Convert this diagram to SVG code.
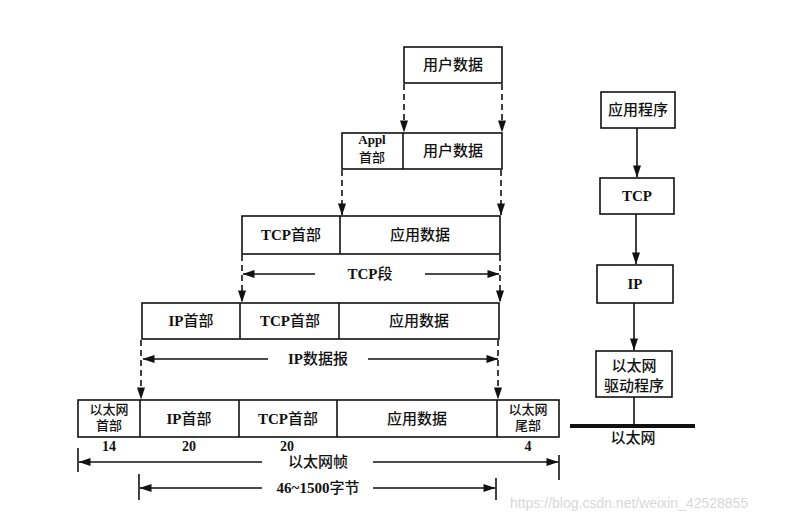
<svg xmlns="http://www.w3.org/2000/svg" width="787" height="522" viewBox="0 0 787 522">
<style>
.box{fill:none;stroke:#111;stroke-width:1.6}
.t{font-family:"Liberation Serif","Noto Sans CJK SC",serif;font-size:15px;fill:#111;text-anchor:middle;font-weight:500}
.b{font-weight:bold}
.s{font-size:13px}
.n{font-size:14px;font-weight:bold}
.dash{stroke:#111;stroke-width:1.6;stroke-dasharray:6 4;fill:none}
.solid{stroke:#111;stroke-width:1.6;fill:none}
.wm{font-family:"Liberation Sans","DejaVu Sans",sans-serif;font-size:14px;fill:#d8d8d8}
</style>
<defs>
<marker id="ah" markerWidth="13" markerHeight="8" refX="11.5" refY="4" orient="auto" markerUnits="userSpaceOnUse" viewBox="0 0 12 8">
<path d="M0,0 L12,4 L0,8 z" fill="#111"/>
</marker>
</defs>
<rect width="787" height="522" fill="#ffffff"/>

<g id="connectors">
<line class="dash" x1="404" y1="84" x2="404" y2="132" marker-end="url(#ah)"/>
<line class="dash" x1="502" y1="84" x2="502" y2="132" marker-end="url(#ah)"/>
<line class="dash" x1="342" y1="170" x2="342" y2="215" marker-end="url(#ah)"/>
<line class="dash" x1="501" y1="170" x2="501" y2="215" marker-end="url(#ah)"/>
<line class="dash" x1="242" y1="255" x2="242" y2="302" marker-end="url(#ah)"/>
<line class="dash" x1="500" y1="255" x2="500" y2="302" marker-end="url(#ah)"/>
<line class="dash" x1="141" y1="340" x2="141" y2="399" marker-end="url(#ah)"/>
<line class="dash" x1="498" y1="340" x2="498" y2="399" marker-end="url(#ah)"/>

<line class="solid" x1="637" y1="128" x2="637" y2="177" marker-end="url(#ah)"/>
<line class="solid" x1="636" y1="214" x2="636" y2="264" marker-end="url(#ah)"/>
<line class="solid" x1="634" y1="303" x2="634" y2="350" marker-end="url(#ah)"/>
<line class="solid" x1="634" y1="397" x2="634" y2="425"/>
<line x1="570" y1="426" x2="695" y2="426" stroke="#111" stroke-width="4"/>
</g>

<g id="dim-tcp">
<line class="solid" x1="315" y1="274" x2="243" y2="274" marker-end="url(#ah)"/>
<line class="solid" x1="425" y1="274" x2="499" y2="274" marker-end="url(#ah)"/>
<text class="t" x="370" y="279"><tspan class="b">TCP</tspan>段</text>
</g>
<g id="dim-ip">
<line class="solid" x1="268" y1="359" x2="143" y2="359" marker-end="url(#ah)"/>
<line class="solid" x1="368" y1="359" x2="498" y2="359" marker-end="url(#ah)"/>
<text class="t" x="318" y="364"><tspan class="b">IP</tspan>数据报</text>
</g>
<g id="dim-eth">
<line class="solid" x1="78" y1="448" x2="78" y2="472"/>
<line class="solid" x1="559" y1="455" x2="559" y2="480"/>
<line class="solid" x1="262" y1="462" x2="79" y2="462" marker-end="url(#ah)"/>
<line class="solid" x1="373" y1="462" x2="558" y2="462" marker-end="url(#ah)"/>
<text class="t" x="318" y="467">以太网帧</text>
</g>
<g id="dim-payload">
<line class="solid" x1="139" y1="474" x2="139" y2="500"/>
<line class="solid" x1="496" y1="478" x2="496" y2="500"/>
<line class="solid" x1="262" y1="488" x2="140" y2="488" marker-end="url(#ah)"/>
<line class="solid" x1="373" y1="488" x2="495" y2="488" marker-end="url(#ah)"/>
<text class="t" x="318" y="493"><tspan class="b">46~1500</tspan>字节</text>
</g>

<g id="user-data">
<rect class="box" x="404" y="47" width="98" height="36"/>
<text class="t" x="453" y="70">用户数据</text>
</g>

<g id="appl-frame">
<rect class="box" x="342" y="133" width="160" height="36"/>
<line class="solid" x1="403" y1="133" x2="403" y2="169"/>
<text class="t s b" x="372" y="144">Appl</text>
<text class="t s" x="372" y="162">首部</text>
<text class="t" x="453" y="156">用户数据</text>
</g>

<g id="tcp-segment">
<rect class="box" x="242" y="216" width="258" height="38"/>
<line class="solid" x1="340" y1="216" x2="340" y2="254"/>
<text class="t" x="291" y="240"><tspan class="b">TCP</tspan>首部</text>
<text class="t" x="420" y="240">应用数据</text>
</g>

<g id="ip-datagram">
<rect class="box" x="142" y="303" width="357" height="36"/>
<line class="solid" x1="240" y1="303" x2="240" y2="339"/>
<line class="solid" x1="339" y1="303" x2="339" y2="339"/>
<text class="t" x="191" y="326"><tspan class="b">IP</tspan>首部</text>
<text class="t" x="290" y="326"><tspan class="b">TCP</tspan>首部</text>
<text class="t" x="419" y="326">应用数据</text>
</g>

<g id="eth-frame">
<rect class="box" x="78" y="400" width="481" height="37"/>
<line class="solid" x1="140" y1="400" x2="140" y2="437"/>
<line class="solid" x1="239" y1="400" x2="239" y2="437"/>
<line class="solid" x1="337" y1="400" x2="337" y2="437"/>
<line class="solid" x1="497" y1="400" x2="497" y2="437"/>
<text class="t s" x="109" y="414">以太网</text>
<text class="t s" x="109" y="430">首部</text>
<text class="t" x="189" y="424"><tspan class="b">IP</tspan>首部</text>
<text class="t" x="288" y="424"><tspan class="b">TCP</tspan>首部</text>
<text class="t" x="417" y="424">应用数据</text>
<text class="t s" x="528" y="414">以太网</text>
<text class="t s" x="528" y="430">尾部</text>
<text class="t n" x="109" y="451">14</text>
<text class="t n" x="189" y="451">20</text>
<text class="t n" x="287" y="451">20</text>
<text class="t n" x="528" y="451">4</text>
</g>

<g id="app">
<rect class="box" x="601" y="92" width="74" height="36"/>
<text class="t" x="638" y="115">应用程序</text>
</g>
<g id="tcp">
<rect class="box" x="600" y="178" width="74" height="36"/>
<text class="t b" x="637" y="201">TCP</text>
</g>
<g id="ip">
<rect class="box" x="597" y="265" width="76" height="38"/>
<text class="t b" x="635" y="289">IP</text>
</g>
<g id="driver">
<rect class="box" x="596" y="351" width="76" height="46"/>
<text class="t" x="634" y="371">以太网</text>
<text class="t" x="634" y="391">驱动程序</text>
</g>
<g id="ethernet">
<text class="t" x="633" y="443">以太网</text>
</g>

<text class="wm" x="510" y="508">https://blog.csdn.net/weixin_42528855</text>
</svg>
